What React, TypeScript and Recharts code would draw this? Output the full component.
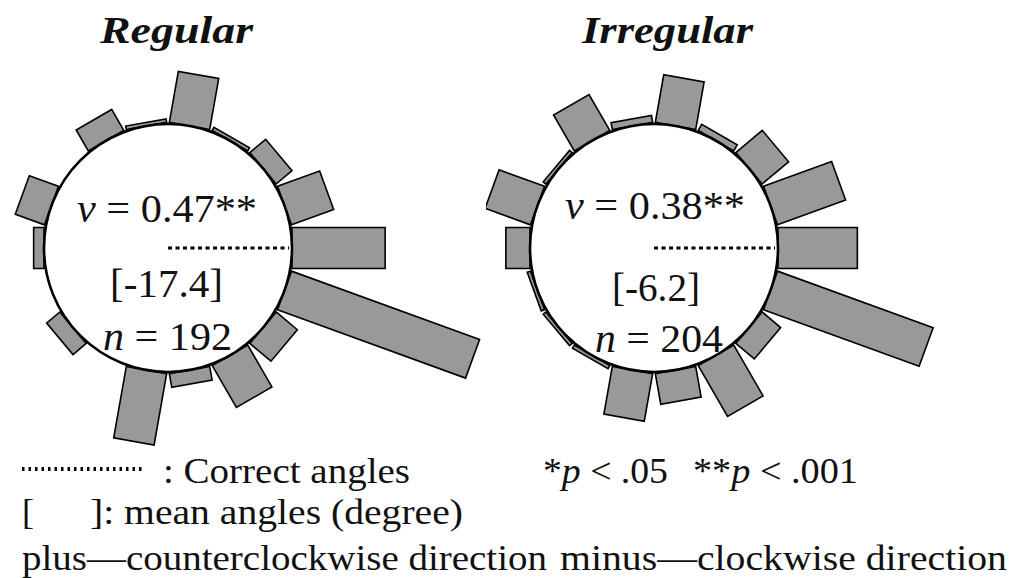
import React from 'react'
import {
  RadarChart,
  Radar,
  PolarAngleAxis,
  PolarRadiusAxis,
} from 'recharts'

// 20-degree bins, counterclockwise from the right (0 = correct direction)
const BIN_ANGLES = [0, 20, 40, 60, 80, 100, 120, 140, 160, 180, 200, 220, 240, 260, 280, 300, 320, 340]
const REGULAR_COUNTS = [27, 13, 6, 1, 15, 1, 7, 0, 9, 3, 0, 5, 0, 21, 4, 14, 8, 58]
const IRREGULAR_COUNTS = [23, 21, 10, 2, 14, 2, 12, 1, 14, 7, 1, 1, 1, 14, 9, 17, 7, 48]
const COUNT_MAX = 60
const CORRECT_ANGLE = 0

const PANELS = [
  { title: 'Regular', counts: REGULAR_COUNTS, v: '0.47', stars: '**', mean: '[-17.4]', n: '192' },
  { title: 'Irregular', counts: IRREGULAR_COUNTS, v: '0.38', stars: '**', mean: '[-6.2]', n: '204' },
]

const INNER = 124
const OUTER = INNER + COUNT_MAX * 3.45
const HALF_W = 20.5
const SERIF = '"Liberation Serif", "Times New Roman", serif'
const RAD = Math.PI / 180

// each bin drawn as a rectangle standing on the circle, pointing outward
function RoseBars(props: any) {
  const { points } = props
  if (!points || !points.length) return null
  const cx = points[0].cx
  const cy = points[0].cy
  const rects = points.map((p: any, i: number) => {
    const a = p.angle != null ? p.angle : -Math.atan2(p.y - cy, p.x - cx) / RAD
    const ux = Math.cos(-a * RAD)
    const uy = Math.sin(-a * RAD)
    const vx = -uy
    const vy = ux
    const r1 = p.radius
    if (!(r1 - INNER > 0.5)) return null
    const pts = [
      [cx + ux * INNER + vx * HALF_W, cy + uy * INNER + vy * HALF_W],
      [cx + ux * r1 + vx * HALF_W, cy + uy * r1 + vy * HALF_W],
      [cx + ux * r1 - vx * HALF_W, cy + uy * r1 - vy * HALF_W],
      [cx + ux * INNER - vx * HALF_W, cy + uy * INNER - vy * HALF_W],
    ]
    const d = 'M' + pts.map(q => q[0].toFixed(2) + ',' + q[1].toFixed(2)).join('L') + 'Z'
    return <path key={i} d={d} fill="#999999" stroke="#000" strokeWidth={1.6} />
  })
  const ex = cx + INNER * Math.cos(-CORRECT_ANGLE * RAD)
  const ey = cy + INNER * Math.sin(-CORRECT_ANGLE * RAD)
  return (
    <g>
      {rects}
      <circle cx={cx} cy={cy} r={INNER} fill="none" stroke="#000" strokeWidth={2.6} />
      <line x1={cx} y1={cy} x2={ex - 3} y2={ey} stroke="#000" strokeWidth={3} strokeDasharray="4 3.5" />
    </g>
  )
}

function Rose({ counts }: { counts: number[] }) {
  const data = BIN_ANGLES.map((angle, i) => ({ angle, count: counts[i] }))
  return (
    <RadarChart
      width={526}
      height={470}
      data={data}
      cx={168}
      cy={248}
      innerRadius={INNER}
      outerRadius={OUTER}
      startAngle={0}
      endAngle={360}
      margin={{ top: 0, right: 0, bottom: 0, left: 0 }}
      accessibilityLayer={false}
    >
      <PolarAngleAxis dataKey="angle" type="number" domain={[0, 360]} tick={false} axisLine={false} tickLine={false} hide />
      <PolarRadiusAxis type="number" domain={[0, COUNT_MAX]} tick={false} axisLine={false} hide />
      <Radar dataKey="count" shape={RoseBars} dot={false} activeDot={false} label={false} isAnimationActive={false} />
    </RadarChart>
  )
}

const textStyle = { fontFamily: SERIF }

export default function App() {
  return (
    <div style={{ position: 'absolute', left: 0, top: 0, width: 1012, height: 578, background: '#fff', overflow: 'hidden' }}>
      <div style={{ position: 'absolute', left: 0, top: 0 }}>
        <Rose counts={PANELS[0].counts} />
      </div>
      <div style={{ position: 'absolute', left: 486, top: 0 }}>
        <Rose counts={PANELS[1].counts} />
      </div>
      <svg
        width={1012}
        height={578}
        style={{ position: 'absolute', left: 0, top: 0, pointerEvents: 'none', fontFamily: SERIF }}
        fill="#111"
      >
        <text x={100} y={43} style={textStyle} fontSize={37} fontWeight="bold" fontStyle="italic" textLength={153} lengthAdjust="spacingAndGlyphs">
          {PANELS[0].title}
        </text>
        <text x={582} y={43} style={textStyle} fontSize={37} fontWeight="bold" fontStyle="italic" textLength={171} lengthAdjust="spacingAndGlyphs">
          {PANELS[1].title}
        </text>

        {/* statistics inside the circles */}
        <text x={77} y={222} style={textStyle} fontSize={40} textLength={180} lengthAdjust="spacingAndGlyphs">
          <tspan fontStyle="italic">v</tspan> = {PANELS[0].v}{PANELS[0].stars}
        </text>
        <text x={110} y={297} style={textStyle} fontSize={40} textLength={113} lengthAdjust="spacingAndGlyphs">{PANELS[0].mean}</text>
        <text x={103} y={350} style={textStyle} fontSize={40} textLength={129} lengthAdjust="spacingAndGlyphs">
          <tspan fontStyle="italic">n</tspan> = {PANELS[0].n}
        </text>

        <text x={565} y={219} style={textStyle} fontSize={40} textLength={180} lengthAdjust="spacingAndGlyphs">
          <tspan fontStyle="italic">v</tspan> = {PANELS[1].v}{PANELS[1].stars}
        </text>
        <text x={612} y={301} style={textStyle} fontSize={40} textLength={88} lengthAdjust="spacingAndGlyphs">{PANELS[1].mean}</text>
        <text x={595} y={352} style={textStyle} fontSize={40} textLength={128} lengthAdjust="spacingAndGlyphs">
          <tspan fontStyle="italic">n</tspan> = {PANELS[1].n}
        </text>

        {/* key */}
        <line x1={22} y1={469} x2={145} y2={469} stroke="#000" strokeWidth={4} strokeDasharray="2.5 4" />
        <text x={163} y={483} style={textStyle} fontSize={36} textLength={247} lengthAdjust="spacingAndGlyphs">: Correct angles</text>
        <text x={543} y={483} style={textStyle} fontSize={36} textLength={125} lengthAdjust="spacingAndGlyphs">
          *<tspan fontStyle="italic">p</tspan> &lt; .05
        </text>
        <text x={693} y={483} style={textStyle} fontSize={36} textLength={165} lengthAdjust="spacingAndGlyphs">
          **<tspan fontStyle="italic">p</tspan> &lt; .001
        </text>
        <text x={22} y={524} style={textStyle} fontSize={36}>[</text>
        <text x={90} y={524} style={textStyle} fontSize={36} textLength={373} lengthAdjust="spacingAndGlyphs">]: mean angles (degree)</text>
        <text x={22} y={570} style={textStyle} fontSize={36} textLength={525} lengthAdjust="spacingAndGlyphs">plus—counterclockwise direction</text>
        <text x={560} y={570} style={textStyle} fontSize={36} textLength={447} lengthAdjust="spacingAndGlyphs">minus—clockwise direction</text>
      </svg>
    </div>
  )
}
